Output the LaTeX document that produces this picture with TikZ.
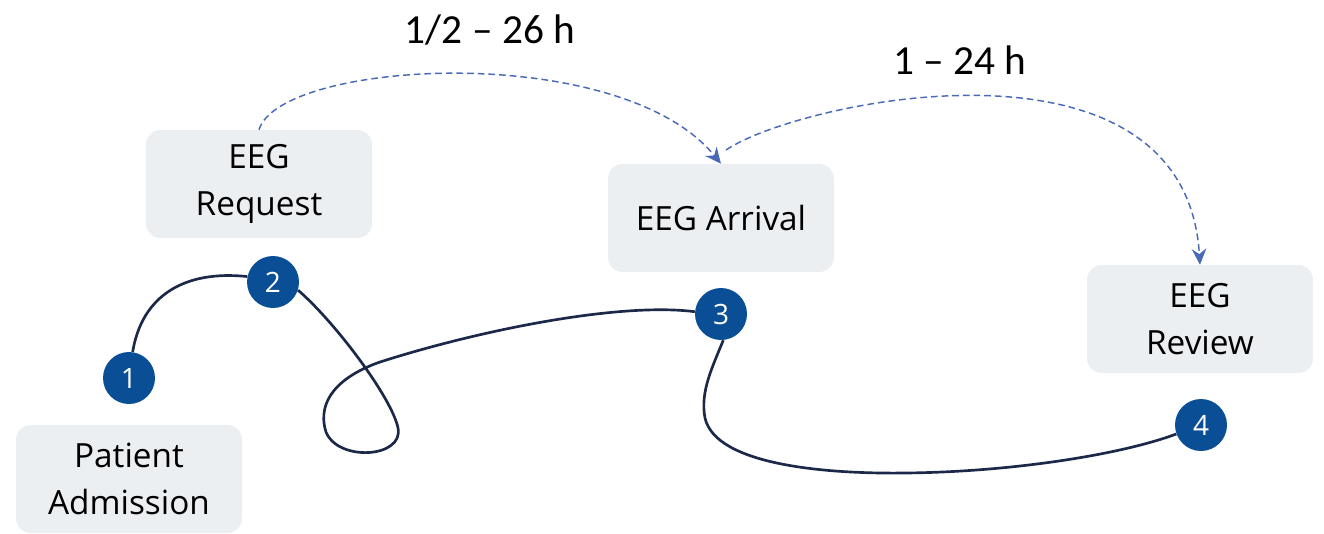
\documentclass[tikz,border=0pt]{standalone}
\usepackage{fontspec}
\setmainfont{Open Sans}
\newfontfamily\labfont{Carlito}
\usetikzlibrary{arrows.meta}
\pgfdeclarelayer{background}
\pgfsetlayers{background,main}
\definecolor{boxgray}{HTML}{ECEFF2}
\definecolor{numblue}{HTML}{0A4F95}
\definecolor{pathnavy}{HTML}{1B2848}
\definecolor{dashblue}{HTML}{4A6AB8}
\tikzset{
  stagebox/.style={rectangle, rounded corners=11pt, fill=boxgray, minimum width=169.5pt, minimum height=81pt, align=center, inner sep=0pt, font=\fontsize{25}{35}\selectfont},
  numdot/.style={circle, fill=numblue, text=white, minimum size=39pt, inner sep=0pt, font=\fontsize{21}{24}\selectfont},
  journey/.style={draw=pathnavy, line width=2pt},
  waitarrow/.style={draw=dashblue, line width=1.1pt, dash pattern=on 5pt off 3pt, -{Stealth[length=12pt, width=11pt, inset=4pt]}},
  timelabel/.style={font=\labfont\fontsize{31}{36}\selectfont, inner sep=0pt}
}
\begin{document}
\begin{tikzpicture}[x=0.75pt, y=-0.75pt]
\useasboundingbox (0,0) rectangle (1324,533);
% boxes
\node[stagebox] (adm) at (129,479) {Patient\\Admission};
\node[stagebox] (req) at (259,184) {EEG\\Request};
\node[stagebox] (arr) at (721,218) {EEG Arrival};
\node[stagebox] (rev) at (1200,319) {EEG\\Review};
% labels
\node[timelabel] (l1) at (490,30) {1/2 – 26 h};
\node[timelabel] (l2) at (960,60) {1 – 24 h};
% numbered dots
\node[numdot] (c1) at (129,378) {1};
\node[numdot] (c2) at (273,282) {2};
\node[numdot] (c3) at (721,314) {3};
\node[numdot] (c4) at (1201,425) {4};
% journey path (behind the dots)
\begin{pgfonlayer}{background}
\draw[journey] (c1.82) .. controls (142,295) and (185,270) .. (c2.168);
\draw[journey] (c2.-18) .. controls (335,322) and (392,398) .. (398,428)
  .. controls (404,458) and (338,462) .. (326,432)
  .. controls (316,400) and (340,376) .. (380,362)
  .. controls (480,330) and (620,302) .. (c3.175);
\draw[journey] (c3.-85) .. controls (712,368) and (700,392) .. (705,418)
  .. controls (716,466) and (830,474) .. (905,473)
  .. controls (1010,472) and (1120,455) .. (c4.200);
\end{pgfonlayer}
% waiting arrows
\coordinate (a2s) at (726,150);
\draw[waitarrow] (req.north) .. controls (280,60) and (620,40) .. (arr.north);
\draw[waitarrow] (a2s) .. controls (800,100) and (1185,20) .. (rev.north);
\end{tikzpicture}
\end{document}
